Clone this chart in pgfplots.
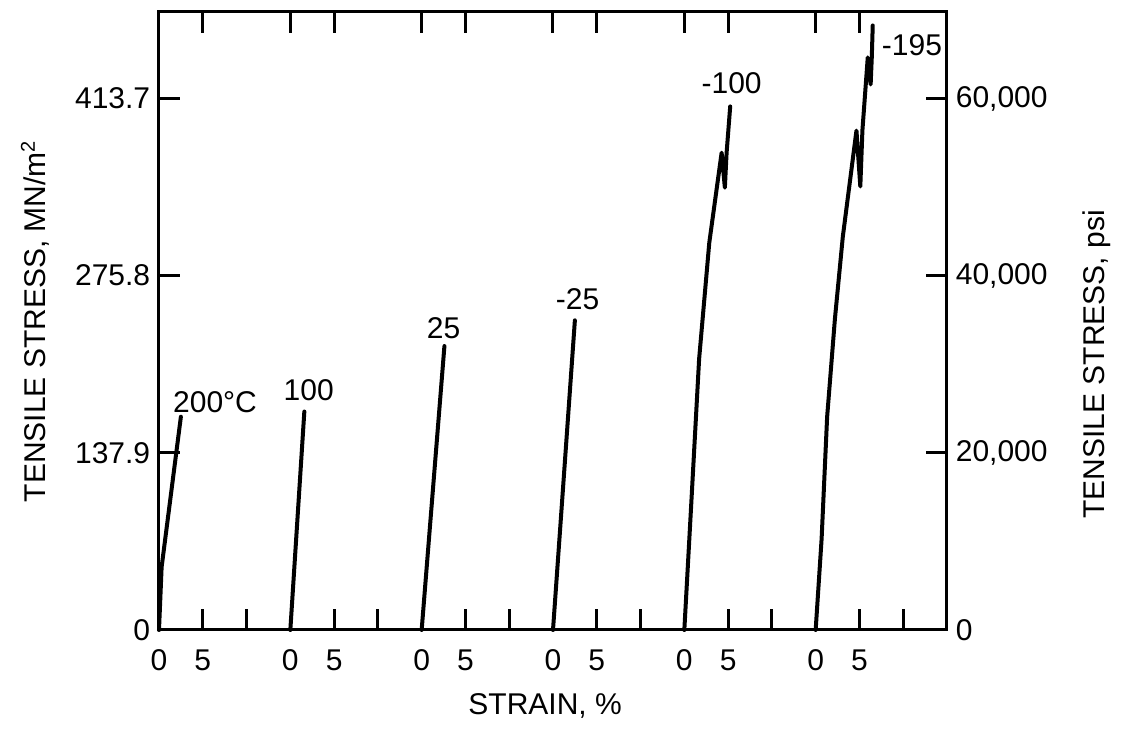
\documentclass[border=0pt]{standalone}
\usepackage{fontspec}
\setmainfont{Liberation Sans}
\usepackage{pgfplots}
\pgfplotsset{compat=1.18}
\usetikzlibrary{calc}

% 1 px of the reference = 0.4pt
\pgfplotsset{
  base/.style={
    scale only axis, width=315.2pt, height=247.2pt,
    xmin=0, xmax=90,
    axis line style={line width=1.2pt},
    every tick/.style={line width=1.2pt, black},
    major tick length=8.4pt, tick align=inside,
    tick label style={font=\fontsize{12}{14}\selectfont},
    label style={font=\fontsize{12}{14}\selectfont},
  },
  crv/.style={black, line width=1.6pt, line join=round, line cap=round},
}

\begin{document}
\begin{tikzpicture}
\begin{axis}[base, ymin=0, ymax=481, clip=false,
  xtick pos=left, ytick pos=left,
  xtick={5,10,20,25,35,40,50,55,65,70,80,85},
  xticklabels={5,,5,,5,,5,,5,,5,},
  extra x ticks={0,15,30,45,60,75},
  extra x tick labels={0,0,0,0,0,0},
  extra x tick style={major tick length=0pt},
  xticklabel style={anchor=center, yshift=-12pt},
  ytick={0,137.9,275.8,413.7},
  yticklabels={0,137.9,275.8,413.7},
  xlabel={STRAIN, \%},
  ylabel={TENSILE STRESS, MN/m\textsuperscript{2}},
  xlabel style={at={(axis description cs:0.49,-0.123)}, anchor=center},
  ylabel style={at={(axis description cs:-0.157,0.5)}, anchor=center},
]
\coordinate (O) at (rel axis cs:0,0);
% 200 C
\addplot[crv] coordinates {(0,0) (0.3,49) (2.5,166)};
% 100
\addplot[crv] coordinates {(15,0) (16.6,170)};
% 25
\addplot[crv] coordinates {(30,0) (32.6,221)};
% -25
\addplot[crv] coordinates {(45,0) (47.5,241)};
% -100
\addplot[crv] coordinates {(60,0) (60.81,100.5) (61.69,211) (62.85,301.4)
  (64.26,371.5) (64.63,344.3) (64.83,371.6) (65.24,407.5)};
% -195
\addplot[crv] coordinates {(75,0) (75.68,70.9) (76.31,165.8) (77.2,242.2)
  (78.1,306) (79.66,388.7) (80.1,345.2) (80.34,388.8) (80.95,445.6)
  (81.28,424.6) (81.41,445.6) (81.52,470.5)};

\node[font=\fontsize{12}{14}\selectfont] at (axis cs:6.4,177) {200°C};
\node[font=\fontsize{12}{14}\selectfont] at (axis cs:17.1,187) {100};
\node[font=\fontsize{12}{14}\selectfont] at (axis cs:32.5,234.7) {25};
\node[font=\fontsize{12}{14}\selectfont] at (axis cs:47.8,257.4) {-25};
\node[font=\fontsize{12}{14}\selectfont] at (axis cs:65.4,425.8) {-100};
\node[font=\fontsize{12}{14}\selectfont] at (axis cs:86,455) {-195};
\end{axis}

\begin{axis}[base, ymin=0, ymax=69761,
  axis x line*=top, axis y line*=right,
  xtick={5,15,20,30,35,45,50,60,65,75,80},
  xticklabels={,,,,,,,,,,},
  ytick={0,20000,40000,60000},
  yticklabels={0,{20,000},{40,000},{60,000}},
  ylabel={TENSILE STRESS, psi},
  ylabel style={at={(axis description cs:1.19,0.43)}, anchor=center},
]
\end{axis}

\pgfresetboundingbox
\path[use as bounding box] ($(O)+(-63.6pt,-42.4pt)$) rectangle ++(450.8pt,294.4pt);
\end{tikzpicture}
\end{document}
